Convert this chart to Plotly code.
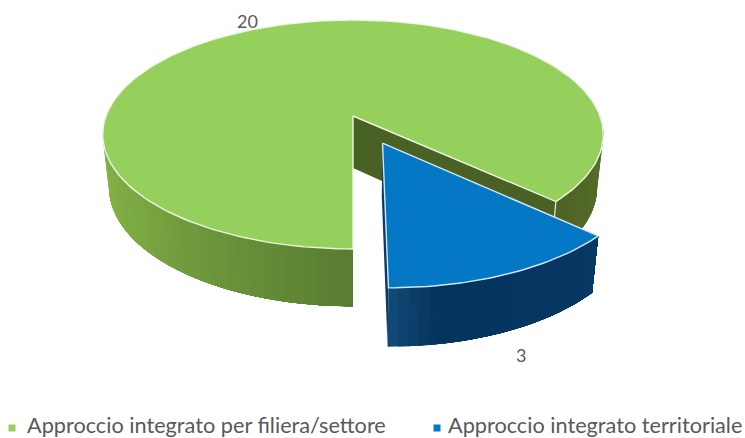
import numpy as np
import plotly.graph_objects as go

categories = ["Approccio integrato per filiera/settore", "Approccio integrato territoriale"]
values = [20, 3]

# projection of the tilted pie onto the page (pixel-like axes)
CX, CY_TOP, CY_BOT = 353.0, 116.0, 168.0
RX, RY, K = 247.0, 111.5, 0.1615
BOT_X, BOT_Y = 0.975, 1.04
OFFSET = (0.115, 0.234)  # exploded slice offset


def project(u, v, bottom=False):
    u, v = np.asarray(u, float), np.asarray(v, float)
    d = 1 - K * v
    if bottom:
        return CX + BOT_X * RX * u / d, CY_BOT + BOT_Y * RY * v / d
    return CX + RX * u / d, CY_TOP + RY * v / d


def rim(t, off=(0, 0)):
    t = np.radians(t)
    return np.sin(t) + off[0], np.cos(t) + off[1]


def lerp_colour(stops, f):
    xs = [s[0] for s in stops]
    rgb = [np.interp(f, xs, [s[1][i] for s in stops]) for i in range(3)]
    return "rgb(%d,%d,%d)" % tuple(int(round(c)) for c in rgb)


fig = go.Figure()


def poly(x, y, fill, line=None, width=0.0):
    fig.add_trace(go.Scatter(x=list(x), y=list(y), mode="lines", fill="toself", fillcolor=fill,
                             line=dict(color=line or fill, width=width), showlegend=False, hoverinfo="skip"))


def edge(x, y, colour, width=1.4):
    fig.add_trace(go.Scatter(x=list(x), y=list(y), mode="lines", line=dict(color=colour, width=width),
                             showlegend=False, hoverinfo="skip"))


def wall(t0, t1, n, off, stops):
    # strips are painted in order, each running on under the next so no seams show
    ts = np.linspace(t0, t1, n + 1)
    for i in range(n):
        tt = np.linspace(ts[i], t1, 24) if i < n - 1 else np.linspace(ts[i], ts[i + 1], 4)
        u, v = rim(tt, off)
        xa, ya = project(u, v)
        xb, yb = project(u, v, True)
        poly(np.r_[xa, xb[::-1], xa[0]], np.r_[ya, yb[::-1], ya[0]],
             lerp_colour(stops, (i + 0.5) / n))


def radial_wall(t, off, colour):
    u, v = rim(t, off)
    xa, ya = project([off[0], u], [off[1], v])
    xb, yb = project([off[0], u], [off[1], v], True)
    poly(np.r_[xa, xb[::-1], xa[0]], np.r_[ya, yb[::-1], ya[0]], colour)


sweep = 360.0 * values[1] / sum(values)
GREEN_LEFT = [(0, (139, 186, 80)), (0.45, (122, 168, 66)), (1, (88, 124, 50))]
GREEN_RIGHT = [(0, (78, 100, 38)), (1, (88, 112, 42))]
BLUE_WALL = [(0, (18, 74, 120)), (0.2, (4, 52, 94)), (1, (8, 56, 100))]

# green slice: inner wall, outer walls, top
radial_wall(sweep, (0, 0), "#4a6125")
wall(sweep, 92, 16, (0, 0), GREEN_RIGHT)
wall(266, 360, 40, (0, 0), GREEN_LEFT)
u, v = rim(sweep)
xa, ya = project(u, v)
xb, yb = project(u, v, True)
edge([xa, xb], [ya, yb], "#e4efd4", 1.2)

tt = np.linspace(sweep, 360, 200)
u, v = rim(tt)
xt, yt = project(u, v)
xo, yo = project(0, 0)
poly(np.r_[xo, xt, xo], np.r_[yo, yt, yo], "#96d05c", "#eef6e2", 1.4)

# blue slice: walls, top
radial_wall(0, OFFSET, "#0b3a66")
wall(0, sweep, 24, OFFSET, BLUE_WALL)
tt = np.linspace(0, sweep, 40)
u, v = rim(tt, OFFSET)
xt, yt = project(u, v)
xo, yo = project(*OFFSET)
poly(np.r_[xo, xt, xo], np.r_[yo, yt, yo], "#0478c4", "#d2e6f4", 1.4)

# legend: swatch plus text
legend_marks = [12, 437]
legend_text = [25, 446]
for name, colour, mx, tx in zip(categories, ["#96d05c", "#0478c4"], legend_marks, legend_text):
    fig.add_trace(go.Scatter(x=[mx], y=[428], mode="markers", name=name, showlegend=False, hoverinfo="skip",
                             marker=dict(symbol="square", size=7, color=colour)))
    fig.add_annotation(x=tx, y=424.8, text=name, showarrow=False, xanchor="left",
                       font=dict(family="Lato", size=21.7, color="#595959"))

# data labels
label_pos = [(247, 21), (521, 355)]
for val, (lx, ly) in zip(values, label_pos):
    fig.add_annotation(x=lx, y=ly, text=str(val), showarrow=False,
                       font=dict(family="Lato", size=18, color="#595959"))

fig.update_layout(
    width=745, height=438, margin=dict(l=0, r=0, t=0, b=0),
    paper_bgcolor="white", plot_bgcolor="white", showlegend=False,
    xaxis=dict(range=[0, 745], visible=False, fixedrange=True),
    yaxis=dict(range=[438, 0], visible=False, fixedrange=True),
)
fig.write_html("out.html", config={"displayModeBar": False},
               post_script="document.body.style.margin='0';document.body.style.overflow='hidden';")
